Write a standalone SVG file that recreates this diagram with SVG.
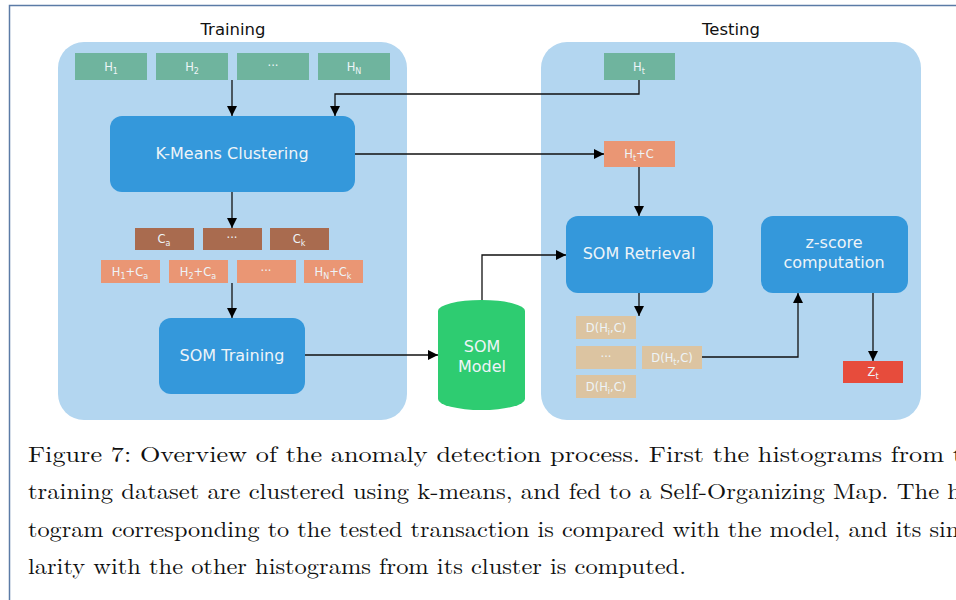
<svg xmlns="http://www.w3.org/2000/svg" width="956" height="600" viewBox="0 0 956 600">
<defs>
<marker id="ah" viewBox="0 0 10 10" refX="10" refY="5" markerWidth="10" markerHeight="10" markerUnits="userSpaceOnUse" orient="auto">
<path d="M0,0 L10,5 L0,10 z" fill="#000"/>
</marker>
<style>
.panel{fill:#b3d6f0}
.big{fill:#3498db}
.h{fill:#6fb49e}
.c{fill:#a96b4f}
.hc{fill:#ea9674}
.d{fill:#dcc4a1}
.z{fill:#e74c3c}
.t{font-family:"DejaVu Sans",sans-serif;fill:#eef4f8;text-anchor:middle}
.s{font-size:11.5px}
.l{font-size:16px}
.sub{font-size:8px}
.hd{font-family:"DejaVu Sans",sans-serif;font-size:16.5px;fill:#111;text-anchor:middle}
.cap{font-family:"Latin Modern Roman","Liberation Serif",serif;font-size:22px;fill:#111}
.cn{fill:none;stroke:#111;stroke-width:1.3}
</style>
</defs>
<rect x="0" y="0" width="956" height="600" fill="#fff"/>
<path d="M9.5,605 V5.5 H960" fill="none" stroke="#5b7ba6" stroke-width="1.5"/>

<g id="training-panel">
<rect class="panel" x="58" y="42" width="349" height="378" rx="26"/>
<text class="hd" x="233" y="35">Training</text>
</g>
<g id="testing-panel">
<rect class="panel" x="541" y="42" width="380" height="378" rx="26"/>
<text class="hd" x="731" y="35">Testing</text>
</g>

<g id="connectors">
<path class="cn" d="M232,80 V116" marker-end="url(#ah)"/>
<path class="cn" d="M639,80 V94 H335 V116" marker-end="url(#ah)"/>
<path class="cn" d="M355,154 H604" marker-end="url(#ah)"/>
<path class="cn" d="M232,192 V228" marker-end="url(#ah)"/>
<path class="cn" d="M232,283 V318" marker-end="url(#ah)"/>
<path class="cn" d="M305,355 H438" marker-end="url(#ah)"/>
<path class="cn" d="M482,300 V255 H566" marker-end="url(#ah)"/>
<path class="cn" d="M639,167 V216" marker-end="url(#ah)"/>
<path class="cn" d="M639,293 V316" marker-end="url(#ah)"/>
<path class="cn" d="M702,357 H798 V293" marker-end="url(#ah)"/>
<path class="cn" d="M873,293 V361" marker-end="url(#ah)"/>
</g>

<g id="h1"><rect class="h" x="75" y="53" width="72" height="27"/><text class="t s" x="111" y="71">H<tspan class="sub" dy="3">1</tspan></text></g>
<g id="h2"><rect class="h" x="156" y="53" width="72" height="27"/><text class="t s" x="192" y="71">H<tspan class="sub" dy="3">2</tspan></text></g>
<g id="hdots"><rect class="h" x="237" y="53" width="72" height="27"/><text class="t s" x="273" y="70">···</text></g>
<g id="hn"><rect class="h" x="318" y="53" width="72" height="27"/><text class="t s" x="354" y="71">H<tspan class="sub" dy="3">N</tspan></text></g>

<g id="kmeans"><rect class="big" x="110" y="116" width="245" height="76" rx="12"/><text class="t l" x="232" y="159">K-Means Clustering</text></g>

<g id="ca"><rect class="c" x="135" y="228" width="59" height="22"/><text class="t s" x="164" y="243">C<tspan class="sub" dy="3">a</tspan></text></g>
<g id="cdots"><rect class="c" x="203" y="228" width="59" height="22"/><text class="t s" x="232" y="242">···</text></g>
<g id="ck"><rect class="c" x="270" y="228" width="59" height="22"/><text class="t s" x="299" y="243">C<tspan class="sub" dy="3">k</tspan></text></g>

<g id="h1ca"><rect class="hc" x="101" y="260" width="59" height="23"/><text class="t s" x="130" y="276">H<tspan class="sub" dy="3">1</tspan><tspan dy="-3">+C</tspan><tspan class="sub" dy="3">a</tspan></text></g>
<g id="h2ca"><rect class="hc" x="169" y="260" width="59" height="23"/><text class="t s" x="198" y="276">H<tspan class="sub" dy="3">2</tspan><tspan dy="-3">+C</tspan><tspan class="sub" dy="3">a</tspan></text></g>
<g id="hcdots"><rect class="hc" x="237" y="260" width="59" height="23"/><text class="t s" x="266" y="275">···</text></g>
<g id="hnck"><rect class="hc" x="304" y="260" width="59" height="23"/><text class="t s" x="333" y="276">H<tspan class="sub" dy="3">N</tspan><tspan dy="-3">+C</tspan><tspan class="sub" dy="3">k</tspan></text></g>

<g id="somtraining"><rect class="big" x="159" y="318" width="146" height="76" rx="12"/><text class="t l" x="232" y="361">SOM Training</text></g>

<g id="sommodel">
<path d="M438,311 A43.5,11 0 0 1 525,311 V399 A43.5,11 0 0 1 438,399 Z" fill="#2ecc71"/>
<text class="t l" x="482" y="352">SOM</text>
<text class="t l" x="482" y="372">Model</text>
</g>

<g id="ht"><rect class="h" x="604" y="53" width="71" height="27"/><text class="t s" x="639" y="71">H<tspan class="sub" dy="3">t</tspan></text></g>
<g id="htc"><rect class="hc" x="604" y="141" width="71" height="26"/><text class="t s" x="639" y="158">H<tspan class="sub" dy="3">t</tspan><tspan dy="-3">+C</tspan></text></g>

<g id="somretrieval"><rect class="big" x="566" y="216" width="147" height="77" rx="12"/><text class="t l" x="639" y="259">SOM Retrieval</text></g>
<g id="zscore"><rect class="big" x="761" y="216" width="147" height="77" rx="12"/><text class="t l" x="834" y="248">z-score</text><text class="t l" x="834" y="268">computation</text></g>

<g id="d1"><rect class="d" x="576" y="316" width="60" height="23"/><text class="t s" x="606" y="332">D(H<tspan class="sub" dy="3">i</tspan><tspan dy="-3">,C)</tspan></text></g>
<g id="ddots"><rect class="d" x="576" y="346" width="60" height="23"/><text class="t s" x="606" y="361">···</text></g>
<g id="d2"><rect class="d" x="576" y="375" width="60" height="23"/><text class="t s" x="606" y="391">D(H<tspan class="sub" dy="3">i</tspan><tspan dy="-3">,C)</tspan></text></g>
<g id="dt"><rect class="d" x="642" y="346" width="60" height="23"/><text class="t s" x="672" y="362">D(H<tspan class="sub" dy="3">t</tspan><tspan dy="-3">,C)</tspan></text></g>

<g id="zt"><rect class="z" x="843" y="361" width="60" height="22"/><text class="t s" x="873" y="376">Z<tspan class="sub" dy="3">t</tspan></text></g>

<g id="caption">
<text class="cap" x="28" y="462" textLength="935" lengthAdjust="spacingAndGlyphs">Figure 7: Overview of the anomaly detection process. First the histograms from t</text>
<text class="cap" x="28" y="499" textLength="933" lengthAdjust="spacingAndGlyphs">training dataset are clustered using k-means, and fed to a Self-Organizing Map. The h</text>
<text class="cap" x="28" y="537" textLength="938" lengthAdjust="spacingAndGlyphs">togram corresponding to the tested transaction is compared with the model, and its sim</text>
<text class="cap" x="28" y="574" textLength="658" lengthAdjust="spacingAndGlyphs">larity with the other histograms from its cluster is computed.</text>
</g>
</svg>
